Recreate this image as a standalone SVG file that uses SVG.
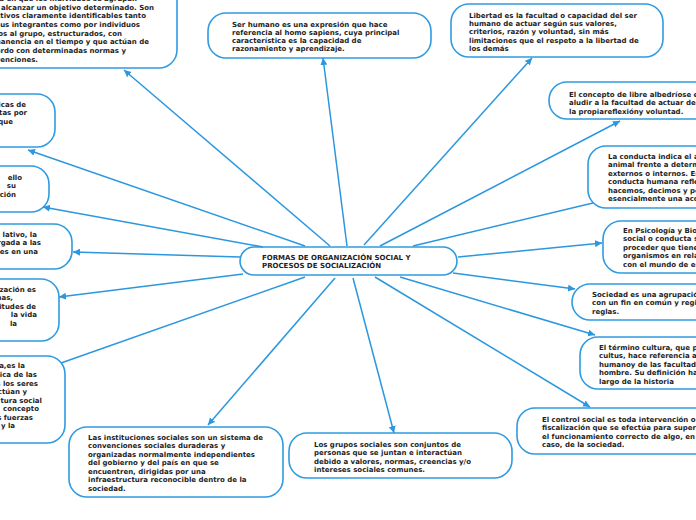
<svg xmlns="http://www.w3.org/2000/svg" width="696" height="520" viewBox="0 0 696 520">
<style>
.box{fill:#fff;stroke:#2f9be0;stroke-width:1.6}
.t{font-family:"DejaVu Sans",Verdana,sans-serif;font-weight:bold;font-size:7px;fill:#1e1e1e}
.e{text-anchor:end}
.c{fill:none;stroke:#2b97df;stroke-width:1.5}
</style>
<defs>
<marker id="ah" markerUnits="userSpaceOnUse" markerWidth="8" markerHeight="8" refX="7" refY="3.5" orient="auto">
<path d="M0,0 L7,3.5 L0,7 z" fill="#2b97df"/>
</marker>
</defs>
<rect width="696" height="520" fill="#fff"/>

<g id="n-central"><rect class="box" x="240" y="247" width="217" height="28" rx="14"/>
<text class="t" x="262" y="259.8">FORMAS DE ORGANIZACIÓN SOCIAL Y</text>
<text class="t" x="262" y="268.2">PROCESOS DE SOCIALIZACIÓN</text></g>

<g id="n-grupos-top"><rect class="box" x="-150" y="-60" width="327" height="128" rx="18"/>
<text class="t e" x="137" y="1.3">a en que los individuos se agrupan</text>
<text class="t e" x="154" y="9.8">a alcanzar un objetivo determinado. Son</text>
<text class="t e" x="146" y="18.3">ctivos claramente identificables tanto</text>
<text class="t e" x="140" y="26.8">sus integrantes como por individuos</text>
<text class="t e" x="122" y="35.5">os al grupo, estructurados, con</text>
<text class="t e" x="149" y="44.3">manencia en el tiempo y que actúan de</text>
<text class="t e" x="126" y="53">erdo con determinadas normas y</text>
<text class="t e" x="38" y="61.5">venciones.</text></g>

<g id="n-icas"><rect class="box" x="-100" y="94" width="155" height="53" rx="18"/>
<text class="t e" x="26" y="106.5">icas de</text>
<text class="t e" x="27" y="115">tas por</text>
<text class="t e" x="13" y="123.5">que</text></g>

<g id="n-ello"><rect class="box" x="-100" y="166" width="149" height="46" rx="18"/>
<text class="t e" x="22" y="179.5">ello</text>
<text class="t e" x="16" y="188">su</text>
<text class="t e" x="16" y="196.5">ción</text></g>

<g id="n-lativo"><rect class="box" x="-100" y="224" width="172" height="45" rx="18"/>
<text class="t e" x="37" y="236.5">lativo, la</text>
<text class="t e" x="41" y="245">rgada a las</text>
<text class="t e" x="38" y="254">es en una</text></g>

<g id="n-zacion"><rect class="box" x="-100" y="279" width="159" height="62" rx="18"/>
<text class="t e" x="36" y="291.5">zación es</text>
<text class="t e" x="13" y="300">nas,</text>
<text class="t e" x="36" y="308.5">itudes de</text>
<text class="t e" x="37" y="317">la vida</text>
<text class="t e" x="17" y="325.5">la</text></g>

<g id="n-esla"><rect class="box" x="-100" y="356" width="165" height="87" rx="18"/>
<text class="t e" x="25" y="367.5">a,es la</text>
<text class="t e" x="37" y="376.5">ica de las</text>
<text class="t e" x="38" y="385.5">s los seres</text>
<text class="t e" x="27" y="394">ctúan y</text>
<text class="t e" x="42" y="402.5">tura social</text>
<text class="t e" x="39" y="411">concepto</text>
<text class="t e" x="33" y="419.5">s fuerzas</text>
<text class="t e" x="15" y="428">y la</text></g>

<g id="n-instituciones"><rect class="box" x="69" y="427" width="214" height="70" rx="18"/>
<text class="t" x="88" y="439.5">Las instituciones sociales son un sistema de</text>
<text class="t" x="88" y="448">convenciones sociales duraderas y</text>
<text class="t" x="88" y="456.5">organizadas normalmente independientes</text>
<text class="t" x="88" y="465">del gobierno y del país en que se</text>
<text class="t" x="88" y="473.5">encuentren, dirigidas por una</text>
<text class="t" x="88" y="482">infraestructura reconocible dentro de la</text>
<text class="t" x="88" y="490.5">sociedad.</text></g>

<g id="n-grupos"><rect class="box" x="289" y="433" width="223" height="45" rx="18"/>
<text class="t" x="314" y="446.5">Los grupos sociales son conjuntos de</text>
<text class="t" x="314" y="455">personas que se juntan e interactúan</text>
<text class="t" x="314" y="463.5">debido a valores, normas, creencias y/o</text>
<text class="t" x="314" y="472">intereses sociales comunes.</text></g>

<g id="n-control"><rect class="box" x="517" y="408" width="250" height="46" rx="18"/>
<text class="t" x="542" y="421.5">El control social es toda intervención o</text>
<text class="t" x="542" y="430">fiscalización que se efectúa para superv</text>
<text class="t" x="542" y="438.5">el funcionamiento correcto de algo, en</text>
<text class="t" x="542" y="447">caso, de la sociedad.</text></g>

<g id="n-cultura"><rect class="box" x="580" y="337" width="200" height="52" rx="18"/>
<text class="t" x="599" y="349.5">El término cultura, que p</text>
<text class="t" x="599" y="358">cultus, hace referencia a</text>
<text class="t" x="599" y="366.5">humanoy de las facultade</text>
<text class="t" x="599" y="375">hombre. Su definición ha</text>
<text class="t" x="599" y="383.5">largo de la historia</text></g>

<g id="n-sociedad"><rect class="box" x="572" y="284" width="200" height="36" rx="18"/>
<text class="t" x="592" y="296.5">Sociedad es una agrupació</text>
<text class="t" x="592" y="305">con un fin en común y regi</text>
<text class="t" x="592" y="314">reglas.</text></g>

<g id="n-psicologia"><rect class="box" x="603" y="221" width="200" height="52" rx="18"/>
<text class="t" x="623" y="232.5">En Psicología y Bio</text>
<text class="t" x="623" y="241">social o conducta s</text>
<text class="t" x="623" y="249.5">proceder que tiene</text>
<text class="t" x="623" y="258">organismos en rela</text>
<text class="t" x="623" y="266.5">con el mundo de es</text></g>

<g id="n-conducta"><rect class="box" x="588" y="146" width="200" height="62" rx="18"/>
<text class="t" x="608" y="158.5">La conducta indica el a</text>
<text class="t" x="608" y="167">animal frente a determ</text>
<text class="t" x="608" y="175.5">externos o internos. En</text>
<text class="t" x="608" y="184">conducta humana refle</text>
<text class="t" x="608" y="192.5">hacemos, decimos y pe</text>
<text class="t" x="608" y="201">esencialmente una acc</text></g>

<g id="n-albedrio"><rect class="box" x="549" y="82" width="200" height="37" rx="18"/>
<text class="t" x="569" y="96.5">El concepto de libre albedríose e</text>
<text class="t" x="569" y="105">aludir a la facultad de actuar de</text>
<text class="t" x="569" y="113.5">la propiareflexióny voluntad.</text></g>

<g id="n-libertad"><rect class="box" x="451" y="4" width="212" height="53" rx="18"/>
<text class="t" x="469" y="17.5">Libertad es la facultad o capacidad del ser</text>
<text class="t" x="469" y="26">humano de actuar según sus valores,</text>
<text class="t" x="469" y="34.3">criterios, razón y voluntad, sin más</text>
<text class="t" x="469" y="42.6">limitaciones que el respeto a la libertad de</text>
<text class="t" x="469" y="51">los demás</text></g>

<g id="n-humano"><rect class="box" x="208" y="13" width="223" height="45" rx="18"/>
<text class="t" x="232" y="26.5">Ser humano es una expresión que hace</text>
<text class="t" x="232" y="34.8">referencia al homo sapiens, cuya principal</text>
<text class="t" x="232" y="43.1">característica es la capacidad de</text>
<text class="t" x="232" y="51.4">razonamiento y aprendizaje.</text></g>

<g id="connectors">
<line class="c" x1="330" y1="246" x2="124" y2="70" marker-end="url(#ah)"/>
<line class="c" x1="305" y1="246" x2="28" y2="150" marker-end="url(#ah)"/>
<line class="c" x1="263" y1="247" x2="43" y2="207" marker-end="url(#ah)"/>
<line class="c" x1="240" y1="257" x2="73" y2="252" marker-end="url(#ah)"/>
<line class="c" x1="243" y1="274" x2="59" y2="297" marker-end="url(#ah)"/>
<line class="c" x1="305" y1="277" x2="61" y2="363"/>
<line class="c" x1="335" y1="278" x2="208" y2="425" marker-end="url(#ah)"/>
<line class="c" x1="353" y1="278" x2="394" y2="433" marker-end="url(#ah)"/>
<line class="c" x1="375" y1="277" x2="590" y2="407" marker-end="url(#ah)"/>
<line class="c" x1="400" y1="277" x2="595" y2="335" marker-end="url(#ah)"/>
<line class="c" x1="453" y1="273" x2="575" y2="289" marker-end="url(#ah)"/>
<line class="c" x1="458" y1="257" x2="602" y2="243" marker-end="url(#ah)"/>
<line class="c" x1="413" y1="246" x2="593" y2="203"/>
<line class="c" x1="380" y1="246" x2="620" y2="121" marker-end="url(#ah)"/>
<line class="c" x1="364" y1="245" x2="532" y2="58" marker-end="url(#ah)"/>
<line class="c" x1="347" y1="246" x2="323" y2="58" marker-end="url(#ah)"/>
</g>
</svg>
